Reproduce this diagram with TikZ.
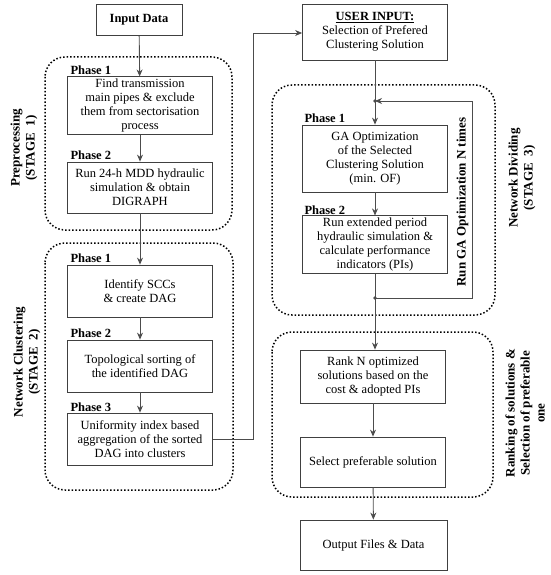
\documentclass[tikz,border=0pt]{standalone}
\usepackage{fontspec}
\setmainfont{Liberation Serif}
\usetikzlibrary{arrows.meta,positioning}
\begin{document}
\begin{tikzpicture}[x=1pt,y=-1pt,
  box/.style={draw=black!75,line width=0.8pt,align=center,font=\fontsize{12.5}{14}\selectfont,inner sep=2pt,minimum width=145pt},
  frame/.style={draw=black,line width=1.5pt,dotted,rounded corners=20pt},
  phase/.style={anchor=west,font=\fontsize{12.5}{14}\selectfont\bfseries},
  side/.style={rotate=90,align=center,font=\fontsize{13}{15}\selectfont\bfseries},
  conn/.style={draw=black!70,line width=0.9pt},
  arr/.style={conn,-{Stealth[length=7pt,width=6pt]}}]
\useasboundingbox (0,0) rectangle (550,575);
% frames
\draw[frame] (45,57) rectangle (232,230);
\draw[frame] (45,243) rectangle (233,490);
\draw[frame] (272,85) rectangle (495,315);
\draw[frame] (272,332) rectangle (493,497);
% left column
\node[box,minimum width=86pt,minimum height=31pt,font=\fontsize{12.5}{14}\selectfont\bfseries] (input) at (139,20) {Input Data};
\node[phase] (p11) at (67,70) {Phase 1};
\node[box,minimum height=55pt] (a1) at (140,105.5) {Find transmission\\main pipes \& exclude\\them from sectorisation\\process};
\node[phase] (p12) at (67,155) {Phase 2};
\node[box,minimum height=51pt] (a2) at (140,187.5) {Run 24-h MDD hydraulic\\simulation \& obtain\\DIGRAPH};
\node[phase] (p21) at (67,258) {Phase 1};
\node[box,minimum height=52pt] (b1) at (140,291) {Identify SCCs\\\& create DAG};
\node[phase] (p22) at (67,333) {Phase 2};
\node[box,minimum height=52pt] (b2) at (140,366) {Topological sorting of\\the identified DAG};
\node[phase] (p23) at (67,407) {Phase 3};
\node[box,minimum height=52pt] (b3) at (140,439) {Uniformity index based\\aggregation of the sorted\\DAG into clusters};
% right column
\node[box,minimum height=56pt] (user) at (375,32) {\underline{\textbf{USER INPUT:}}\\Selection of Prefered\\Clustering Solution};
\node[phase] (p31) at (301,118) {Phase 1};
\node[box,minimum height=67pt] (c1) at (375,158.5) {GA Optimization\\of the Selected\\Clustering Solution\\(min. OF)};
\node[phase] (p32) at (301,210) {Phase 2};
\node[box,minimum height=57pt] (c2) at (375,244.5) {Run extended period\\hydraulic simulation \&\\calculate performance\\indicators (PIs)};
\node[box,minimum height=53pt] (d1) at (373,376.5) {Rank N optimized\\solutions based on the\\cost \& adopted PIs};
\node[box,minimum height=50pt] (d2) at (373,462) {Select preferable solution};
\node[box,minimum width=147pt,minimum height=50pt] (out) at (373.5,545) {Output Files \& Data};
% side labels
\node[side] (l1) at (24,148) {Preprocessing\\(STAGE\ \ 1)};
\node[side] (l2) at (27,362) {Network Clustering\\(STAGE\ \ 2)};
\node[side] (l3) at (522,178) {Network Dividing\\(STAGE\ \ 3)};
\node[side] (l4) at (525,413) {Ranking of solutions \&\\Selection of preferable\\one};
\node[rotate=90,font=\fontsize{13}{15}\selectfont\bfseries,anchor=south] (loopl) at (472,202) {Run GA Optimization N times};
% coordinates
\coordinate (j1) at (375,101);
\coordinate (j2) at (375,298);
\coordinate (k1) at (253,439);
\coordinate (k2) at (253,33);
\coordinate (r1) at (472,298);
\coordinate (r2) at (472,101);
% connectors
\draw[arr] (input) -- (a1);
\draw[arr] (a1) -- (a2);
\draw[arr] (a2) -- (b1);
\draw[arr] (b1) -- (b2);
\draw[arr] (b2) -- (b3);
\draw[conn] (b3.east) -- (k1) -- (k2);
\draw[arr] (k2) -- (k2 -| user.west);
\draw[conn] (user) -- (j1);
\draw[arr] (j1) -- (c1);
\draw[arr] (c1) -- (c2);
\draw[conn] (c2) -- (j2);
\draw[conn] (j2) -- (r1) -- (r2);
\draw[arr] (r2) -- (j1);
\draw[arr] (j2) -- (d1.north -| j2);
\draw[arr] (d1) -- (d2);
\draw[arr] (d2) -- (out);
\fill[black!70] (j1) circle (1.8pt) (j2) circle (1.8pt);
\end{tikzpicture}
\end{document}
